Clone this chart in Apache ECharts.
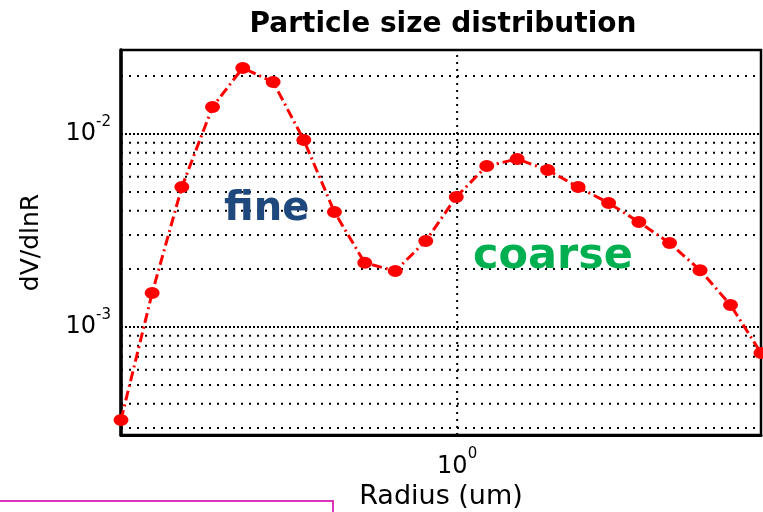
<!DOCTYPE html>
<html>
<head>
<meta charset="utf-8">
<script src="https://cdn.jsdelivr.net/npm/echarts@6/dist/echarts.min.js"></script>
<style>html,body{margin:0;padding:0;background:#fff;}#c{width:763px;height:512px;}</style>
</head>
<body>
<div id="c"></div>
<script>
// AERONET-style radius bins (um) and volume size distribution dV/dlnR
const radius = [0.050, 0.066, 0.086, 0.113, 0.148, 0.194, 0.255, 0.335, 0.439, 0.576, 0.756, 0.992, 1.302, 1.708, 2.241, 2.940, 3.857, 5.051, 6.641, 8.713, 11.432, 15.000];
const dVdlnR = [3.30e-4, 1.50e-3, 5.31e-3, 1.38e-2, 2.20e-2, 1.86e-2, 9.31e-3, 3.94e-3, 2.15e-3, 1.95e-3, 2.79e-3, 4.72e-3, 6.83e-3, 7.42e-3, 6.50e-3, 5.31e-3, 4.39e-3, 3.50e-3, 2.72e-3, 1.97e-3, 1.30e-3, 7.33e-4];
// axis ranges
const xRange = [0.05, 15];
const yRange = [2.756e-4, 2.724e-2];
// tick labels (powers of ten shown)
const xTickValues = [1];
const yTickValues = [1e-3, 1e-2];
// dotted grid (minor and major)
const yMinorGrid = [3e-4, 4e-4, 5e-4, 6e-4, 7e-4, 8e-4, 9e-4, 2e-3, 3e-3, 4e-3, 5e-3, 6e-3, 7e-3, 8e-3, 9e-3, 2e-2];
const yMajorGrid = [1e-3, 1e-2];
const xMajorGrid = [1];
const annotations = [
  {text: 'fine', x: 224, y: 210, size: 40, color: '#1F497D'},
  {text: 'coarse', x: 473, y: 257, size: 43, color: '#00B050'}
];

function powLabel(v, list) {
  for (const t of list) {
    if (Math.abs(v - t) / t < 1e-6) {
      const e = Math.round(Math.log10(t));
      return '{b|10}{s|' + e + '}';
    }
  }
  return '';
}
const richLab = {
  b: {fontFamily: 'DejaVu Sans', fontSize: 24, color: '#000'},
  s: {fontFamily: 'DejaVu Sans', fontSize: 15, color: '#000', padding: [0, 0, 24, 0]}
};

function gridSeries(points, dash) {
  return {
    type: 'line', data: points, symbol: 'none', silent: true, z: 1,
    lineStyle: {color: '#000', width: 2, type: dash},
    emphasis: {disabled: true}, tooltip: {show: false}
  };
}
const gridLines = [];
yMinorGrid.forEach(v => gridLines.push(gridSeries([[xRange[0], v], [xRange[1], v]], [2, 6])));
yMajorGrid.forEach(v => gridLines.push(gridSeries([[xRange[0], v], [xRange[1], v]], [2, 2])));
xMajorGrid.forEach(v => gridLines.push(gridSeries([[v, yRange[0]], [v, yRange[1]]], [2, 5])));

const chart = echarts.init(document.getElementById('c'), null, {renderer: 'canvas'});
chart.setOption({
  animation: false,
  backgroundColor: '#fff',
  title: {
    text: 'Particle size distribution',
    left: 438, top: 6, textAlign: 'center',
    textStyle: {fontFamily: 'DejaVu Sans', fontWeight: 'bold', fontSize: 28, color: '#000'}
  },
  grid: {left: 121, right: 2, top: 50, bottom: 77, show: true, borderColor: '#000', borderWidth: 2.5, backgroundColor: 'transparent', containLabel: false, outerBoundsMode: 'none'},
  xAxis: {
    type: 'log', logBase: 10, min: xRange[0], max: xRange[1],
    name: 'Radius (um)', nameLocation: 'middle', nameGap: 47,
    nameTextStyle: {fontFamily: 'DejaVu Sans', fontSize: 27, color: '#000'},
    axisLine: {show: true, lineStyle: {color: '#000', width: 3}},
    axisTick: {show: false},
    splitLine: {show: false},
    axisLabel: {margin: 12, formatter: v => powLabel(v, xTickValues), rich: richLab, showMinLabel: true, showMaxLabel: true}
  },
  yAxis: {
    type: 'log', logBase: 10, min: yRange[0], max: yRange[1],
    name: 'dV/dlnR', nameLocation: 'middle', nameGap: 77, nameRotate: 90,
    nameTextStyle: {fontFamily: 'DejaVu Sans', fontSize: 25, color: '#000'},
    axisLine: {show: true, lineStyle: {color: '#000', width: 3.5}},
    axisTick: {show: false},
    splitLine: {show: false},
    axisLabel: {margin: 10, formatter: v => powLabel(v, yTickValues), rich: richLab}
  },
  series: [
    ...gridLines,
    {
      type: 'line',
      data: radius.map((r, i) => [r, dVdlnR[i]]),
      symbol: 'circle',
      symbolSize: [15, 12],
      itemStyle: {color: '#FF0000'},
      lineStyle: {color: '#FF0000', width: 3, type: [10, 4, 2, 4]},
      z: 5
    }
  ],
  graphic: [
    ...annotations.map(a => ({
      type: 'text', x: a.x, y: a.y, z: 10,
      style: {text: a.text, fill: a.color, fontFamily: 'DejaVu Sans', fontWeight: 'bold', fontSize: a.size, textAlign: 'left', textVerticalAlign: 'middle'}
    })),
    {type: 'polyline', shape: {points: [[0, 501], [333, 501], [333, 512]]}, style: {stroke: '#DD33BB', lineWidth: 2, fill: null}}
  ]
});
</script>
</body>
</html>
